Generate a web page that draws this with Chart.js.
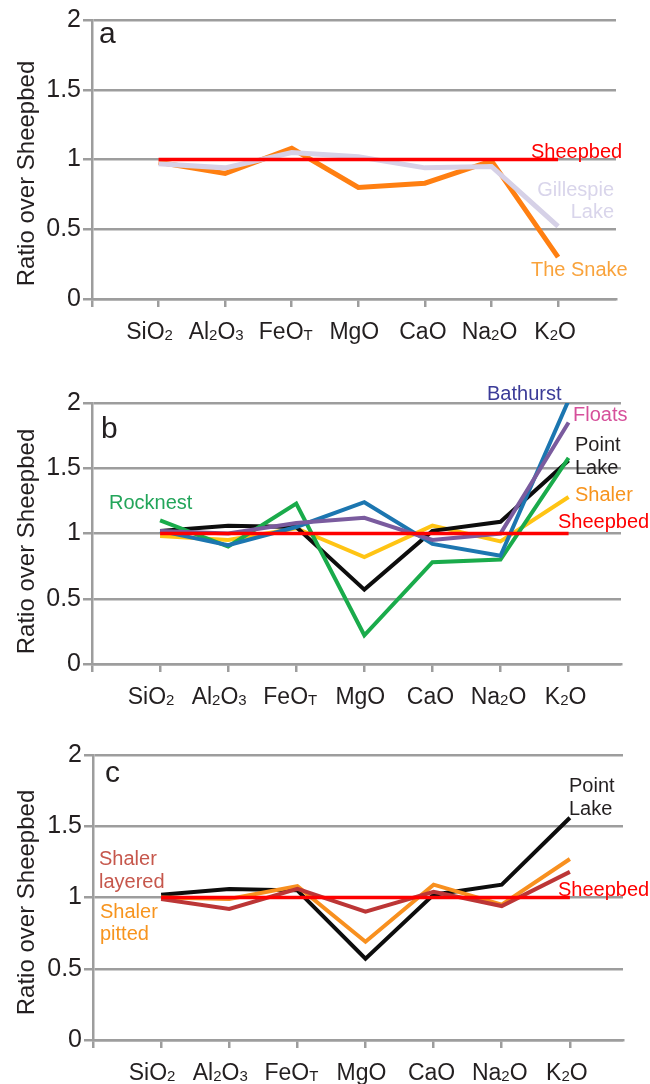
<!DOCTYPE html>
<html>
<head>
<meta charset="utf-8">
<script src="https://cdn.jsdelivr.net/npm/chart.js@4.4.1/dist/chart.umd.min.js"></script>
<style>
    html, body { margin: 0; padding: 0; background: #ffffff; }
    body { position: relative; width: 650px; height: 1084px; overflow: hidden; }
    canvas { position: absolute; left: 0; display: block; }
</style>
</head>
<body>
<canvas id="panelA" width="650" height="355" style="top:0px"></canvas>
<canvas id="panelB" width="650" height="365" style="top:355px"></canvas>
<canvas id="panelC" width="650" height="364" style="top:720px"></canvas>

<script>
// ========== DATA ==========
const elements = ["SiO2", "Al2O3", "FeOT", "MgO", "CaO", "Na2O", "K2O"];
const yTicks = [0, 0.5, 1, 1.5, 2];

const sheepbed      = [1, 1, 1, 1, 1, 1, 1];
const theSnake      = [0.98, 0.90, 1.08, 0.80, 0.83, 0.99, 0.30];
const gillespieLake = [0.97, 0.94, 1.05, 1.02, 0.94, 0.95, 0.52];

const rocknest      = [1.10, 0.90, 1.23, 0.22, 0.78, 0.80, 1.58];
const pointLake     = [1.02, 1.06, 1.05, 0.57, 1.02, 1.09, 1.56];
const bathurst      = [1.02, 0.91, 1.05, 1.24, 0.92, 0.83, 2.02];
const floats        = [1.02, 1.00, 1.08, 1.12, 0.95, 1.00, 1.85];
const shaler        = [0.98, 0.95, 1.04, 0.82, 1.06, 0.94, 1.28];

const shalerPitted  = [1.00, 0.99, 1.08, 0.69, 1.09, 0.95, 1.27];
const shalerLayered = [0.99, 0.92, 1.06, 0.90, 1.04, 0.94, 1.18];

// ========== STYLE ==========
const FONT = "'Liberation Sans', Arial, Helvetica, sans-serif";
const GRID = "#9d9d9d";
const INK = "#231f20";
const RED = "#fe0000";
const Y_TITLE = "Ratio over Sheepbed";

// small horizontal nudges of the x labels (they sit a bit left of the ticks)
const labelShift = [-9, -9, -6, -4, -2, -2, -3];

// split "Al2O3" into normal / subscript pieces
function splitFormula(name) {
    return name.split(/(\d+|T$)/)
        .map((t, i) => ({ text: t, sub: i % 2 === 1 }))
        .filter(p => p.text);
}

function makePanel(id, series, notes, box) {
    const canvas = document.getElementById(id);

    const textPlugin = {
        id: "panelText",
        afterDraw(chart) {
            const ctx = chart.ctx;
            const xs = chart.scales.x;
            const area = chart.chartArea;
            ctx.save();

            // y axis title (sits a little below the plot centre)
            ctx.save();
            ctx.translate(27, (area.top + area.bottom) / 2 + box.titleShift);
            ctx.rotate(-Math.PI / 2);
            ctx.font = "24px " + FONT;
            ctx.fillStyle = INK;
            ctx.textAlign = "center";
            ctx.textBaseline = "middle";
            ctx.fillText(Y_TITLE, 0, 0);
            ctx.restore();

            // x labels with subscripts
            ctx.fillStyle = INK;
            ctx.textBaseline = "alphabetic";
            ctx.textAlign = "left";
            elements.forEach((name, i) => {
                const parts = splitFormula(name);
                let w = 0;
                parts.forEach(p => {
                    ctx.font = (p.sub ? "15px " : "23px ") + FONT;
                    p.w = ctx.measureText(p.text).width;
                    w += p.w;
                });
                let cx = xs.getPixelForValue(i + 1) + labelShift[i] - w / 2;
                parts.forEach(p => {
                    ctx.font = (p.sub ? "15px " : "23px ") + FONT;
                    ctx.fillText(p.text, cx, area.bottom + 40 + (p.sub ? 1 : 0));
                    cx += p.w;
                });
            });

            // series names and panel letter
            notes.forEach(n => {
                ctx.font = (n.size || 20) + "px " + FONT;
                ctx.fillStyle = n.color;
                ctx.textAlign = n.align || "left";
                ctx.textBaseline = n.base || "middle";
                ctx.fillText(n.text, n.x, n.y);
            });
            ctx.restore();
        }
    };

    return new Chart(canvas, {
        type: "line",
        data: {
            datasets: series.map((s, k) => ({
                data: s.values.map((v, i) => ({ x: i + 1, y: v })),
                borderColor: s.color,
                borderWidth: s.width,
                borderJoinStyle: "miter",
                pointRadius: 0,
                tension: 0,
                fill: false,
                order: k
            }))
        },
        options: {
            responsive: false,
            animation: false,
            events: [],
            layout: { padding: { top: box.top, right: 650 - box.right, left: 0, bottom: 0 } },
            plugins: {
                legend: { display: false },
                tooltip: { enabled: false }
            },
            scales: {
                x: {
                    type: "linear",
                    min: 0,
                    max: box.xMax,
                    afterBuildTicks: s => { s.ticks = [0, ...elements.map((_, i) => i + 1)].map(v => ({ value: v })); },
                    afterFit: s => { s.height = canvas.height - box.bottom; },
                    ticks: { display: false },
                    grid: { drawOnChartArea: false, drawTicks: true, tickLength: 8, color: GRID, lineWidth: 2.5 },
                    border: { display: true, color: GRID, width: 2.5 }
                },
                y: {
                    min: 0,
                    max: 2,
                    afterBuildTicks: s => { s.ticks = yTicks.map(v => ({ value: v })); },
                    afterFit: s => { s.width = box.left; },
                    ticks: {
                        color: INK,
                        padding: 2,
                        font: { family: FONT, size: 25 },
                        callback: v => String(v)
                    },
                    grid: { color: GRID, lineWidth: 2.5, tickLength: 9, drawTicks: true },
                    border: { display: true, color: GRID, width: 2.5 },
                    title: { display: false }
                }
            }
        },
        plugins: [textPlugin]
    });
}

// ========== PANEL A ==========
makePanel("panelA",
    [
        { values: sheepbed, color: RED, width: 3.5 },
        { values: gillespieLake, color: "#d6d1e7", width: 5 },
        { values: theSnake, color: "#ff7f11", width: 5 }
    ],
    [
        { text: "a", x: 99, y: 43, size: 30, color: INK, base: "alphabetic" },
        { text: "Sheepbed", x: 531, y: 152, color: RED },
        { text: "Gillespie", x: 614, y: 190, color: "#d9d5eb", align: "right" },
        { text: "Lake", x: 614, y: 212, color: "#d9d5eb", align: "right" },
        { text: "The Snake", x: 531, y: 270, color: "#f9a33c" }
    ],
    { top: 20, bottom: 299, left: 92, right: 616, xMax: 7.87, titleShift: 14 }
);

// ========== PANEL B ==========
makePanel("panelB",
    [
        { values: sheepbed, color: RED, width: 3.5 },
        { values: floats, color: "#7a5b9e", width: 4 },
        { values: bathurst, color: "#1c76b0", width: 4 },
        { values: rocknest, color: "#1aab4b", width: 4 },
        { values: pointLake, color: "#0d0d0d", width: 4 },
        { values: shaler, color: "#ffc414", width: 4 }
    ],
    [
        { text: "b", x: 101, y: 438 - 355, size: 30, color: INK, base: "alphabetic" },
        { text: "Bathurst", x: 487, y: 394 - 355, color: "#3b3b98" },
        { text: "Floats", x: 573, y: 415 - 355, color: "#d6509b" },
        { text: "Point", x: 575, y: 445 - 355, color: INK },
        { text: "Lake", x: 575, y: 468 - 355, color: INK },
        { text: "Shaler", x: 575, y: 495 - 355, color: "#f7941e" },
        { text: "Sheepbed", x: 558, y: 522 - 355, color: RED },
        { text: "Rocknest", x: 109, y: 503 - 355, color: "#23a55a" }
    ],
    { top: 403 - 355, bottom: 664 - 355, left: 92, right: 621, xMax: 7.77, titleShift: 8 }
);

// ========== PANEL C ==========
makePanel("panelC",
    [
        { values: sheepbed, color: RED, width: 3.5 },
        { values: shalerLayered, color: "#bc3636", width: 4 },
        { values: shalerPitted, color: "#f8901f", width: 4 },
        { values: pointLake, color: "#0d0d0d", width: 4 }
    ],
    [
        { text: "c", x: 105, y: 782 - 720, size: 30, color: INK, base: "alphabetic" },
        { text: "Point", x: 569, y: 786 - 720, color: INK },
        { text: "Lake", x: 569, y: 809 - 720, color: INK },
        { text: "Sheepbed", x: 558, y: 890 - 720, color: RED },
        { text: "Shaler", x: 99, y: 859 - 720, color: "#c6574c" },
        { text: "layered", x: 99, y: 882 - 720, color: "#c6574c" },
        { text: "Shaler", x: 100, y: 912 - 720, color: "#f7941e" },
        { text: "pitted", x: 100, y: 934 - 720, color: "#f7941e" }
    ],
    { top: 755 - 720, bottom: 1040 - 720, left: 93, right: 623, xMax: 7.78, titleShift: 5 }
);
</script>
</body>
</html>
